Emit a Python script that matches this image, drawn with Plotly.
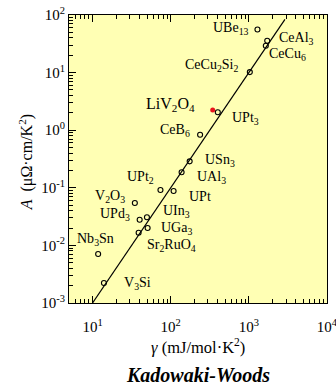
import plotly.graph_objects as go
import numpy as np

# ---- data ----
compounds = ["UBe<sub>13</sub>", "CeAl<sub>3</sub>", "CeCu<sub>6</sub>", "CeCu<sub>2</sub>Si<sub>2</sub>",
             "UPt<sub>3</sub>", "CeB<sub>6</sub>", "USn<sub>3</sub>", "UAl<sub>3</sub>", "UPt",
             "UPt<sub>2</sub>", "V<sub>2</sub>O<sub>3</sub>", "UPd<sub>3</sub>", "UIn<sub>3</sub>",
             "UGa<sub>3</sub>", "Sr<sub>2</sub>RuO<sub>4</sub>", "Nb<sub>3</sub>Sn", "V<sub>3</sub>Si"]
gamma = [1290, 1720, 1650, 1030, 401, 238, 175, 138, 109, 74, 34.8, 40.1, 49.7, 50.7, 38.9, 11.8, 14.0]
A_coef = [56, 35.8, 29.3, 10.2, 2.05, 0.835, 0.288, 0.186, 0.088, 0.0916, 0.0545, 0.0279, 0.0308,
          0.020, 0.0166, 0.0071, 0.00222]

liv_name = "LiV<sub>2</sub>O<sub>4</sub>"
liv_gamma = [345]
liv_A = [2.25]

kw_gamma = [10, 2900]
kw_A = [0.001, 84.1]

x_ticks = [10, 100, 1000, 10000]
x_ticktext = ["10<sup>1</sup>", "10<sup>2</sup>", "10<sup>3</sup>", "10<sup>4</sup>"]
y_ticks = [0.001, 0.01, 0.1, 1, 10, 100]
y_ticktext = ["10<sup>-3</sup>", "10<sup>-2</sup>", "10<sup>-1</sup>", "10<sup>0</sup>",
              "10<sup>1</sup>", "10<sup>2</sup>"]

# ---- label placement (pixel offsets from the point) ----
label_anchor = ["right", "left", "left", "right", "left", "right", "left", "left", "left",
                "right", "right", "right", "left", "left", "left", "center", "left"]
label_dx = [-6, 10, 1, -10, 12, -8, 13, 13, 13, -4, -8, -8, 14, 11, 6, -3, 18]
label_dy = [1, 2, -9, 7, -6, 4, 1, -5, -5, 12, 6, 5, 6, 0, -13, 14, 0]

FONT = "Liberation Serif, Times New Roman, serif"

fig = go.Figure()
fig.add_trace(go.Scatter(x=kw_gamma, y=kw_A, mode="lines",
                         line=dict(color="black", width=1.2), hoverinfo="skip"))
fig.add_trace(go.Scatter(x=gamma, y=A_coef, mode="markers",
                         marker=dict(symbol="circle-open", size=5, color="black",
                                     line=dict(width=1.1, color="black"))))
fig.add_trace(go.Scatter(x=liv_gamma, y=liv_A, mode="markers",
                         marker=dict(symbol="circle", size=5, color="#e8141c")))

annotations = []
for name, g, a, anc, dx, dy in zip(compounds, gamma, A_coef, label_anchor, label_dx, label_dy):
    annotations.append(dict(x=np.log10(g), y=np.log10(a), text=name, showarrow=False,
                            xanchor=anc, yanchor="middle", xshift=dx, yshift=dy,
                            font=dict(family=FONT, size=14, color="black")))
annotations.append(dict(x=np.log10(liv_gamma[0]), y=np.log10(liv_A[0]), text=liv_name,
                        showarrow=False, xanchor="right", yanchor="middle", xshift=-16, yshift=5,
                        font=dict(family=FONT, size=16, color="black")))
annotations.append(dict(x=-0.165, y=0.49, xref="paper", yref="paper", textangle=-90,
                        text="<i>A</i>  (μΩ·cm/K<sup>2</sup>)", showarrow=False,
                        xanchor="center", yanchor="middle",
                        font=dict(family=FONT, size=16, color="black")))
annotations.append(dict(x=0.5, y=-0.15, xref="paper", yref="paper",
                        text="<i>γ</i> (mJ/mol·K<sup>2</sup>)", showarrow=False,
                        xanchor="center", yanchor="middle",
                        font=dict(family=FONT, size=16.5, color="black")))
annotations.append(dict(x=0.5, y=-0.25, xref="paper", yref="paper",
                        text="<b><i>Kadowaki-Woods</i></b>", showarrow=False,
                        xanchor="center", yanchor="middle",
                        font=dict(family=FONT, size=20, color="black")))

axis_common = dict(showgrid=False, zeroline=False, showline=True, linecolor="black",
                   linewidth=1, ticks="inside", ticklen=7, tickcolor="black", tickwidth=1,
                   tickfont=dict(family=FONT, size=15, color="black"),
                   ticklabeloverflow="allow", automargin=False,
                   minor=dict(ticks="inside", ticklen=4, tickcolor="black", tickwidth=1,
                              dtick="D1", showgrid=False))

fig.update_xaxes(type="log", range=[np.log10(5), 4.0005], tickmode="array", tickvals=x_ticks,
                 ticktext=x_ticktext, mirror="ticks", ticklabelstandoff=10, **axis_common)
fig.update_yaxes(type="log", range=[-3, 2], tickmode="array", tickvals=y_ticks,
                 ticktext=y_ticktext, mirror=True, **axis_common)

fig.update_layout(width=336, height=386, margin=dict(l=69, r=9, t=15, b=83),
                  paper_bgcolor="white", plot_bgcolor="#ffffb4", showlegend=False,
                  annotations=annotations, font=dict(family=FONT))

fig.write_html("out.html")
